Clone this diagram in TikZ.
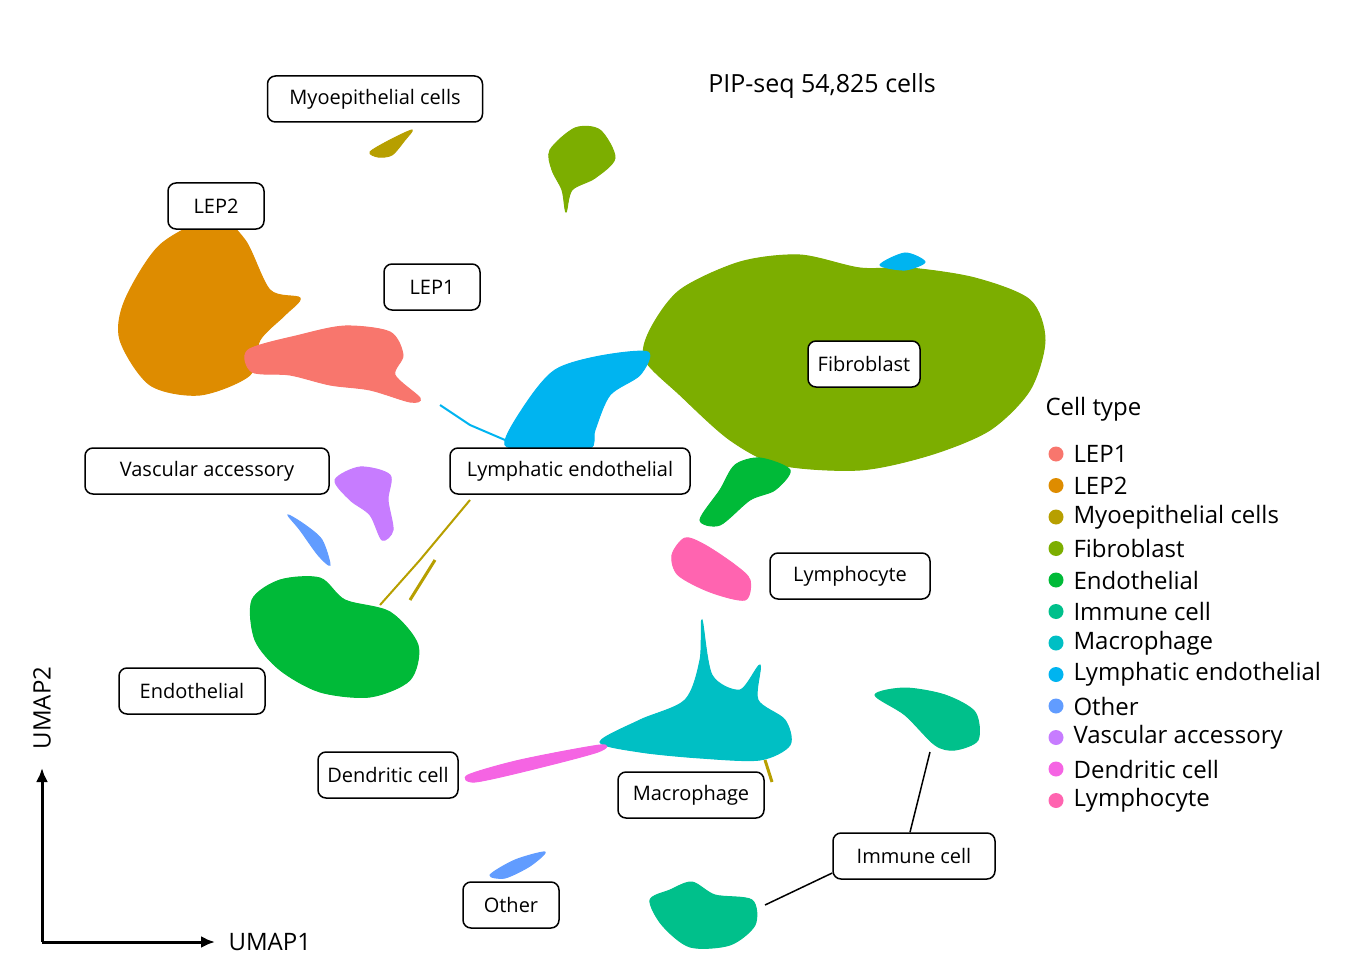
\documentclass[tikz,border=0pt]{standalone}
\usepackage{fontspec}
\setmainfont{Open Sans}
\usetikzlibrary{arrows.meta}
\definecolor{cLEPone}{HTML}{F8766D}
\definecolor{cLEPtwo}{HTML}{DE8C00}
\definecolor{cMyo}{HTML}{B79F00}
\definecolor{cFib}{HTML}{7CAE00}
\definecolor{cEndo}{HTML}{00BA38}
\definecolor{cImm}{HTML}{00C08B}
\definecolor{cMac}{HTML}{00BFC4}
\definecolor{cLymE}{HTML}{00B4F0}
\definecolor{cOth}{HTML}{619CFF}
\definecolor{cVas}{HTML}{C77CFF}
\definecolor{cDen}{HTML}{F564E3}
\definecolor{cLym}{HTML}{FF64B0}
\tikzset{
  lbl/.style={draw, line width=1.5pt, rounded corners=8pt, fill=white, minimum height=46pt,
              inner xsep=8pt, font=\fontsize{20}{23}\selectfont},
  blob/.style={fill=#1, draw=#1, line width=1pt},
  legdot/.style={circle, fill=#1, minimum size=15pt, inner sep=0pt},
  legtxt/.style={anchor=west, font=\fontsize{24}{27}\selectfont},
}
\begin{document}
\begin{tikzpicture}[x=1pt, y=-1pt]
    \useasboundingbox (0,0) rectangle (1350,971);
    %
    % clusters
    \fill[blob=cLEPtwo] plot[smooth cycle] coordinates {(125,300) (160,245) (215,218) (245,240) (270,290) (300,298) (285,315) (260,340) (250,375) (200,395) (150,385) (120,340)};
    \fill[blob=cLEPone] plot[smooth cycle] coordinates {(248,350) (300,335) (345,326) (390,332) (403,355) (395,375) (420,398) (410,402) (370,390) (330,385) (290,375) (252,372)};
    \fill[blob=cMyo] plot[smooth cycle] coordinates {(370,152) (390,140) (412,130) (405,140) (392,155) (378,157)};
    \fill[blob=cFib] plot[smooth cycle] coordinates {(550,150) (575,128) (600,130) (615,158) (595,178) (572,190) (566,212) (562,190) (552,170)};
    \fill[blob=cFib] plot[smooth cycle] coordinates {(650,330) (680,290) (740,262) (800,255) (860,268) (910,268) (975,278) (1030,300) (1045,340) (1030,390) (990,430) (930,455) (860,470) (780,465) (730,440) (680,395) (645,360)};
    \fill[blob=cLymE] plot[smooth cycle] coordinates {(880,265) (905,253) (925,262) (905,270)};
    \fill[blob=cLymE] plot[smooth cycle] coordinates {(505,445) (525,405) (555,370) (600,356) (648,352) (640,375) (610,395) (595,430) (590,448) (545,448)};
    \draw[cLymE, line width=2pt] (440,405) -- (470,425) -- (505,440);
    \fill[blob=cVas] plot[smooth cycle] coordinates {(335,480) (360,467) (390,475) (388,500) (393,530) (382,540) (370,515) (350,500)};
    \fill[blob=cOth] plot[smooth cycle] coordinates {(288,515) (305,525) (322,540) (330,565) (318,555) (300,530)};
    \fill[blob=cOth] plot[smooth cycle] coordinates {(490,875) (515,860) (545,852) (530,866) (505,878)};
    \draw[cMyo, line width=2pt] (380,605) -- (420,560) -- (470,500);
    \draw[cMyo, line width=3pt] (410,600) -- (435,560);
    \fill[blob=cEndo] plot[smooth cycle] coordinates {(252,600) (280,580) (320,578) (345,600) (390,612) (418,645) (410,680) (370,697) (320,692) (280,670) (255,640)};
    \fill[blob=cEndo] plot[smooth cycle] coordinates {(700,520) (720,490) (735,465) (760,458) (790,470) (775,490) (750,500) (720,525)};
    \fill[blob=cLym] plot[smooth cycle] coordinates {(672,555) (685,538) (705,545) (735,565) (750,580) (745,600) (710,592) (678,575)};
    \fill[blob=cMac] plot[smooth cycle] coordinates {(600,742) (640,720) (685,700) (700,660) (702,620) (712,675) (740,690) (760,665) (758,700) (785,720) (790,745) (760,760) (700,758) (640,752)};
    \draw[cMyo, line width=3pt] (765,760) -- (772,782);
    \fill[blob=cDen] plot[smooth cycle] coordinates {(468,775) (520,760) (600,745) (598,752) (530,770) (475,782)};
    \fill[blob=cImm] plot[smooth cycle] coordinates {(875,695) (905,688) (945,695) (975,712) (978,740) (955,750) (935,745) (905,715)};
    \fill[blob=cImm] plot[smooth cycle] coordinates {(650,900) (670,890) (692,882) (715,895) (752,900) (755,925) (730,945) (690,947) (662,925)};
    %
    % labels
    \node[lbl, minimum width=215pt] (myo) at (375,99) {Myoepithelial cells};
    \node[lbl, minimum width=96pt] (leptwo) at (216,206) {LEP2};
    \node[lbl, minimum width=96pt] (lepone) at (432,287) {LEP1};
    \node[lbl, minimum width=112pt] (fib) at (864,364) {Fibroblast};
    \node[lbl, minimum width=244pt] (vas) at (207,471) {Vascular accessory};
    \node[lbl, minimum width=240pt] (lyme) at (570,471) {Lymphatic endothelial};
    \node[lbl, minimum width=160pt] (lym) at (850,576) {Lymphocyte};
    \node[lbl, minimum width=146pt] (endo) at (192,691) {Endothelial};
    \node[lbl, minimum width=140pt] (den) at (388,775) {Dendritic cell};
    \node[lbl, minimum width=146pt] (mac) at (691,795) {Macrophage};
    \node[lbl, minimum width=162pt] (imm) at (914,856) {Immune cell};
    \node[lbl, minimum width=96pt] (oth) at (511,905) {Other};
    \coordinate (immA) at (930,752);
    \coordinate (immB) at (765,905);
    \draw[line width=1.5pt] (imm.north) ++(-4,0) -- (immA);
    \draw[line width=1.5pt] (imm.west) ++(0,17) -- (immB);
    %
    % title and axes
    \node[font=\fontsize{25}{29}\selectfont] (title) at (822,86) {PIP-seq 54,825 cells};
    \coordinate (origin) at (42,942);
    \coordinate (xend) at (215,942);
    \coordinate (yend) at (42,768);
    \draw[line width=3pt, -{Latex[length=14pt,width=12pt]}] (origin) -- (xend);
    \draw[line width=3pt, -{Latex[length=14pt,width=12pt]}] (origin) -- (yend);
    \node[anchor=west, font=\fontsize{24}{27}\selectfont] (umapone) at (225,942) {UMAP1};
    \node[rotate=90, font=\fontsize{24}{27}\selectfont] (umaptwo) at (42,708) {UMAP2};
    %
    % legend
    \node[legtxt] (legtitle) at (1042,409) {Cell type};
    \foreach \c/\t [count=\i] in {cLEPone/LEP1, cLEPtwo/LEP2, cMyo/Myoepithelial cells,
        cFib/Fibroblast, cEndo/Endothelial, cImm/Immune cell, cMac/Macrophage,
        cLymE/Lymphatic endothelial, cOth/Other, cVas/Vascular accessory,
        cDen/Dendritic cell, cLym/Lymphocyte}{
        \node[legdot=\c] (dot\i) at (1056,{454+31.5*(\i-1)}) {};
        \node[legtxt] (leg\i) at (1070,{454+31.5*(\i-1)}) {\t};
    }
\end{tikzpicture}
\end{document}
